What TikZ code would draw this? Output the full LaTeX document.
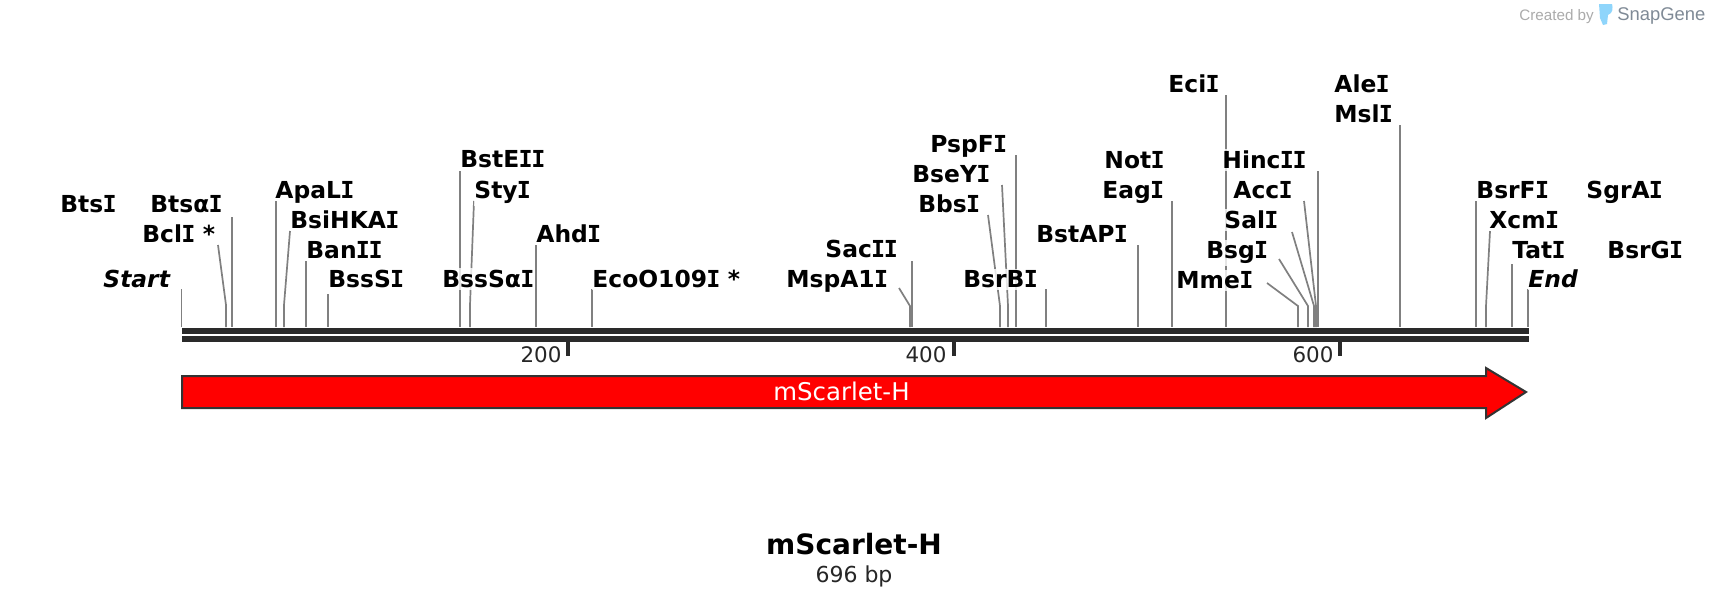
\documentclass[tikz,border=0pt]{standalone}
\usepackage{fontspec}
\setmainfont{DejaVu Sans}
\newfontfamily\sgfont{Liberation Sans}
\newfontfamily\vmono{DejaVu Sans Mono}
\newcommand\vI{\kern-.03em{\vmono\bfseries I}\kern-.03em}
\definecolor{barc}{HTML}{2A2A2A}
\definecolor{sitec}{HTML}{808080}
\definecolor{edgec}{HTML}{333333}
\definecolor{tubec}{HTML}{8FD5FB}
\definecolor{sggray}{HTML}{ABABAB}
\definecolor{sgdark}{HTML}{7F8A96}
\tikzset{
  enz/.style={anchor=base west,xshift=-.5pt,yshift=-.4pt,inner xsep=0pt,inner ysep=1pt,fill=white,fill opacity=.8,text opacity=1,font=\fontsize{11.7}{14}\selectfont\bfseries},
  nohalo/.style={fill=none},
  endlab/.style={enz,font=\fontsize{11.7}{14}\selectfont\bfseries\itshape},
  site/.style={draw=sitec,line width=.85pt},
  strand/.style={fill=barc,draw=none},
  tick/.style={fill=barc,draw=none},
  ticklab/.style={anchor=base west,yshift=.4pt,xshift=-.4pt,inner sep=0pt,font=\fontsize{10.7}{13}\selectfont,text=black!85},
  feature/.style={fill=red,draw=edgec,line width=1pt,miter limit=10},
  featlab/.style={anchor=base,inner sep=0pt,text=white,font=\fontsize{12.2}{14}\selectfont},
}
\begin{document}
\begin{tikzpicture}[x=.5pt,y=-.5pt]
\useasboundingbox[fill=white] (0,0) rectangle (1712,606);
% site connectors: top, elbow, bar end
\foreach \n/\tx/\ty/\ex/\ey in {
 start/181.5/289/181.5/289, bcl/218/245/226/305, btsa/232/217/232/217, apa/276/201/276/201,
 bsi/290/231/284/305, ban/306/261/306/261, bssS/328/294/328/294, bstE/460/171/460/171,
 sty/474/201/470/305, ahd/536/245/536/245, eco/592/289/592/289, sac/912/261/912/261,
 msp/899/288/910/306, bbs/988/215/1000/306, bse/1002/185/1008/306, psp/1016/155/1016/155,
 bsrB/1046/289/1046/289, bstA/1138/245/1138/245, eag/1172/201/1172/201, eci/1226/95/1226/95,
 mme/1267/283/1298/306, bsg/1279/259/1308/306, sal/1292/232/1314/306, acc/1304/201/1316/306,
 hinc/1318/171/1318/171, msl/1400/125/1400/125, bsrF/1476/201/1476/201, xcm/1490/231/1486/306,
 tat/1512/264/1512/264, endm/1528/289/1528/289}{
  \coordinate (t\n) at (\tx,\ty);
  \coordinate (e\n) at (\ex,\ey);
  \coordinate (b\n) at (\ex,327);
  \draw[site] (t\n) -- (e\n) -- (b\n);
}
% labels
\node[enz] (lbts) at (61,212) {Bts\vI};
\node[enz] (lbtsa) at (151,212) {Btsα\vI};
\node[enz] (lbcl) at (143,242) {Bcl\vI{} *};
\node[endlab] (lstart) at (104,287) {Start};
\node[enz,nohalo] (lapa) at (276,198) {ApaL\vI};
\node[enz] (lbsi) at (291,228) {BsiHKA\vI};
\node[enz] (lban) at (307,258) {Ban\vI\vI};
\node[enz] (lbssS) at (329,287) {BssS\vI};
\node[enz,nohalo] (lbstE) at (461,167) {BstE\vI\vI};
\node[enz] (lsty) at (475,198) {Sty\vI};
\node[enz] (lahd) at (537,242) {Ahd\vI};
\node[enz] (lbssa) at (443,287) {BssSα\vI};
\node[enz] (leco) at (593,287) {EcoO109\vI{} *};
\node[enz] (lsac) at (826,257) {Sac\vI\vI};
\node[enz] (lmsp) at (787,287) {MspA1\vI};
\node[enz] (lpsp) at (931,152) {PspF\vI};
\node[enz] (lbse) at (913,182) {BseY\vI};
\node[enz] (lbbs) at (919,212) {Bbs\vI};
\node[enz] (lbsrB) at (964,287) {BsrB\vI};
\node[enz] (lbstA) at (1037,242) {BstAP\vI};
\node[enz] (lnot) at (1105,168) {Not\vI};
\node[enz] (leag) at (1103,198) {Eag\vI};
\node[enz] (leci) at (1169,92) {Eci\vI};
\node[enz] (lale) at (1335,92) {Ale\vI};
\node[enz] (lmsl) at (1335,122) {Msl\vI};
\node[enz] (lhinc) at (1223,168) {Hinc\vI\vI};
\node[enz] (lacc) at (1234,198) {Acc\vI};
\node[enz] (lsal) at (1225,228) {Sal\vI};
\node[enz] (lbsg) at (1207,258) {Bsg\vI};
\node[enz] (lmme) at (1177,288) {Mme\vI};
\node[enz,nohalo] (lbsrF) at (1477,198) {BsrF\vI};
\node[enz] (lxcm) at (1490,228) {Xcm\vI};
\node[enz] (ltat) at (1513,258) {Tat\vI};
\node[endlab] (lend) at (1529,287) {End};
\node[enz] (lsgr) at (1587,198) {SgrA\vI};
\node[enz] (lbsrG) at (1608,258) {BsrG\vI};
% DNA strands
\fill[strand] (181.5,328) rectangle (1529,334);
\fill[strand] (181.5,336) rectangle (1529,342);
% ticks
\fill[tick] (566,342) rectangle (570,356);
\fill[tick] (952,342) rectangle (956,356);
\fill[tick] (1338,342) rectangle (1342,356);
\node[ticklab] (n200) at (521,363) {200};
\node[ticklab] (n400) at (906,363) {400};
\node[ticklab] (n600) at (1293,363) {600};
% feature arrow
\draw[feature] (182,376) -- (1486,376) -- (1486,368) -- (1526,392) -- (1486,418) -- (1486,408) -- (182,408) -- cycle;
\node[featlab] (feat) at (841.5,400) {mScarlet-H};
% title
\node[anchor=base,inner sep=0pt,font=\fontsize{14}{16}\selectfont\bfseries] (title) at (854,554) {mScarlet-H};
\node[anchor=base,inner sep=0pt,font=\fontsize{11}{13}\selectfont,text=black!85] (size) at (854,582) {696 bp};
% watermark
\node[anchor=base west,inner sep=0pt,font=\sgfont\fontsize{7.6}{9}\selectfont,text=sggray] (created) at (1519,20) {Created by};
\fill[tubec] (1599,4) -- (1612,4) .. controls (1613,8) and (1613,13) .. (1608,15) -- (1607,24) -- (1603,25) -- (1600,18) -- cycle;
\node[anchor=base west,inner sep=0pt,font=\sgfont\fontsize{9.2}{11}\selectfont,text=sgdark] (snap) at (1617,20) {SnapGene};
\end{tikzpicture}
\end{document}
